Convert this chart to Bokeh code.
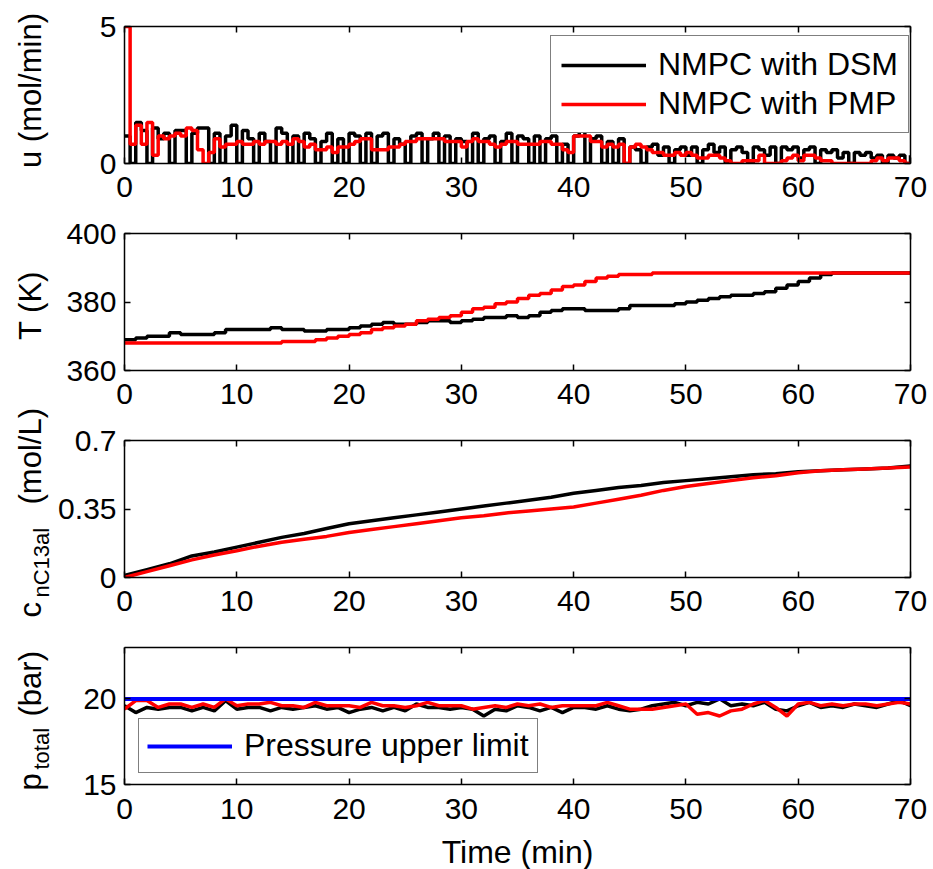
import numpy as np
from math import pi
from bokeh.plotting import figure
from bokeh.models import Range1d, FixedTicker, LinearAxis, Legend, LegendItem
from bokeh.layouts import column, row
from bokeh.embed import file_html
from bokeh.resources import INLINE
from bokeh.core.properties import value

FONT = "Liberation Sans"

# ---------------- data ----------------
x_ticks = [0, 10, 20, 30, 40, 50, 60, 70]
x_min, x_max = 0, 70

# manipulated variable u (mol/min), sampled every 0.5 min
t_u = list(np.arange(0, 70.01, 0.5))
u_dsm = [1.0, 0.0, 1.5, 1.2, 0.0, 1.3, 0.9, 1.1, 0.0, 1.2,
         1.2, 0.0, 1.1, 1.3, 1.3, 0.0, 1.1, 0.0, 1.0, 1.4,
         0.0, 1.2, 0.9, 0.0, 1.1, 0.8, 0.0, 1.3, 1.1, 0.0,
         1.0, 0.0, 1.1, 0.9, 0.0, 0.8, 1.1, 0.0, 0.9, 0.0,
         1.1, 1.0, 0.0, 1.1, 0.0, 1.0, 1.1, 0.0, 0.9, 0.7,
         0.0, 1.0, 1.1, 0.0, 0.9, 1.1, 0.0, 1.0, 0.0, 0.9,
         0.8, 0.0, 1.1, 0.0, 0.9, 1.0, 0.0, 0.8, 1.1, 0.0,
         1.0, 0.9, 0.0, 1.0, 0.0, 0.9, 1.0, 0.0, 0.7, 0.0,
         1.0, 1.2, 0.0, 0.9, 1.0, 0.0, 0.8, 0.0, 0.9, 0.0,
         0.6, 0.5, 0.0, 0.6, 0.7, 0.3, 0.6, 0.0, 0.5, 0.6,
         0.3, 0.6, 0.0, 0.5, 0.7, 0.4, 0.6, 0.0, 0.5, 0.6,
         0.4, 0.0, 0.6, 0.5, 0.3, 0.6, 0.0, 0.6, 0.5, 0.6,
         0.2, 0.5, 0.6, 0.0, 0.5, 0.4, 0.5, 0.2, 0.4, 0.0,
         0.4, 0.3, 0.4, 0.2, 0.3, 0.0, 0.3, 0.2, 0.3, 0.0,
         0.3]
u_pmp = [5.0, 0.7, 1.4, 0.7, 1.5, 0.3, 1.0, 0.9, 1.0, 1.1,
         1.0, 1.3, 1.2, 0.5, 0.0, 0.4, 0.9, 0.6, 0.7, 0.7,
         0.8, 0.7, 0.7, 0.8, 0.7, 0.8, 0.8, 0.7, 0.8, 0.7,
         0.9, 0.8, 0.6, 0.7, 0.5, 0.5, 0.6, 0.4, 0.6, 0.6,
         0.7, 0.8, 0.9, 0.9, 0.5, 0.5, 0.5, 0.6, 0.6, 0.7,
         0.8, 0.8, 0.9, 0.9, 0.9, 0.9, 0.9, 0.8, 0.8, 0.8,
         0.6, 0.8, 0.9, 0.8, 0.8, 0.7, 0.6, 0.7, 0.8, 0.8,
         0.7, 0.7, 0.7, 0.7, 0.8, 0.8, 0.7, 0.7, 0.5, 0.4,
         1.0, 1.0, 1.0, 0.8, 0.8, 0.6, 0.7, 0.6, 0.7, 0.0,
         0.6, 0.7, 0.6, 0.5, 0.4, 0.4, 0.3, 0.3, 0.4, 0.3,
         0.4, 0.3, 0.2, 0.2, 0.3, 0.3, 0.2, 0.1, 0.0, 0.0,
         0.1, 0.1, 0.1, 0.3, 0.0, 0.0, 0.0, 0.1, 0.2, 0.3,
         0.1, 0.3, 0.3, 0.2, 0.1, 0.1, 0.0, 0.0, 0.0, 0.0,
         0.0, 0.0, 0.0, 0.1, 0.2, 0.1, 0.2, 0.2, 0.1, 0.0,
         0.0]

# reactor temperature T (K), every minute
t_T = list(range(0, 71))
T_dsm = [369, 369.5, 370, 370, 371, 370.5, 370.5, 370.5, 371, 372,
         372, 372, 372, 372.5, 372, 372, 371.5, 371.5, 372, 372,
         372.5, 373, 373.5, 374, 373.5, 373.5, 374, 374.5, 374.5, 374,
         374.5, 375, 375.5, 375.5, 376, 375.5, 376, 377, 377.5, 378,
         378, 377.5, 377.5, 377.5, 378, 379, 379, 379, 379, 379.5,
         380, 380.5, 381, 381.5, 382, 382, 382.5, 383, 384, 385,
         386, 387, 388, 388.5, 388.5, 388.5, 388.5, 388.5, 388.5, 388.5,
         388.5]
T_pmp = [368, 368, 368, 368, 368, 368, 368, 368, 368, 368,
         368, 368, 368, 368, 368.5, 368.5, 368.5, 369, 369.5, 370,
         370.5, 371, 372, 372.5, 373, 373.5, 374.5, 375, 375.5, 376,
         377, 378, 378.5, 379.5, 380, 381, 382, 382.5, 383.5, 384.5,
         385, 386, 387, 387.5, 388, 388, 388, 388.5, 388.5, 388.5,
         388.5, 388.5, 388.5, 388.5, 388.5, 388.5, 388.5, 388.5, 388.5, 388.5,
         388.5, 388.5, 388.5, 388.5, 388.5, 388.5, 388.5, 388.5, 388.5, 388.5,
         388.5]

# product concentration c_nC13al (mol/L), every 2 min
t_c = list(range(0, 71, 2))
c_dsm = [0.01, 0.04, 0.07, 0.11, 0.13, 0.155, 0.18, 0.205, 0.225, 0.25,
         0.275, 0.29, 0.305, 0.32, 0.335, 0.35, 0.365, 0.38, 0.395, 0.41,
         0.43, 0.445, 0.46, 0.47, 0.485, 0.495, 0.505, 0.515, 0.525, 0.53,
         0.54, 0.545, 0.55, 0.555, 0.56, 0.57]
c_pmp = [0.0, 0.03, 0.06, 0.09, 0.115, 0.137, 0.16, 0.18, 0.195, 0.21,
         0.23, 0.245, 0.26, 0.275, 0.29, 0.305, 0.315, 0.33, 0.34, 0.35,
         0.36, 0.38, 0.40, 0.42, 0.445, 0.465, 0.48, 0.495, 0.51, 0.52,
         0.535, 0.545, 0.55, 0.555, 0.56, 0.565]

# total pressure (bar), every minute
t_p = list(range(0, 71))
p_dsm = [19.6, 19.2, 19.5, 19.4, 19.5, 19.5, 19.3, 19.5, 19.3, 19.9,
         19.4, 19.5, 19.5, 19.3, 19.5, 19.4, 19.5, 19.6, 19.4, 19.5,
         19.2, 19.4, 19.5, 19.3, 19.5, 19.3, 19.7, 19.5, 19.5, 19.4,
         19.5, 19.4, 19.0, 19.4, 19.3, 19.6, 19.5, 19.3, 19.5, 19.2,
         19.5, 19.5, 19.4, 19.6, 19.4, 19.3, 19.4, 19.6, 19.7, 19.8,
         19.6, 19.8, 19.7, 20.0, 19.6, 19.7, 19.6, 19.8, 19.4, 19.3,
         19.6, 19.8, 19.5, 19.6, 19.5, 19.7, 19.6, 19.5, 19.7, 19.9,
         19.6]
p_pmp = [19.4, 19.9, 19.9, 19.5, 19.7, 19.7, 19.5, 19.7, 19.5, 20.0,
         19.6, 19.7, 19.7, 19.8, 19.6, 19.6, 19.5, 19.8, 19.6, 19.6,
         19.6, 19.5, 19.8, 19.6, 19.6, 19.5, 19.6, 19.8, 19.6, 19.6,
         19.6, 19.4, 19.5, 19.6, 19.5, 19.7, 19.6, 19.7, 19.5, 19.6,
         19.6, 19.6, 19.6, 19.8, 19.6, 19.4, 19.4, 19.4, 19.5, 19.6,
         19.7, 19.1, 19.2, 19.0, 19.3, 19.4, 19.7, 19.9, 19.5, 19.0,
         19.7, 19.8, 19.6, 19.7, 19.6, 19.7, 19.7, 19.6, 19.7, 19.8,
         19.7]
p_limit = 20.0
p_lim_line = [p_limit] * len(t_p)

# ---------------- layout constants ----------------
PAGE_W, PAGE_H = 933, 869
LAB_W = 55              # width of the strip that holds the y-axis titles
MAIN_W = PAGE_W - LAB_W
BORDER_LEFT = 123 - LAB_W
BORDER_RIGHT = 23
FRAME_H = 137
LW = 3.5


def style_axis(ax, labels, standoff=10):
    ax.axis_line_color = "black"
    ax.axis_line_width = 1.5
    ax.major_tick_line_color = "black"
    ax.major_tick_line_width = 1.5
    ax.major_tick_in = 6
    ax.major_tick_out = 0
    ax.minor_tick_line_color = None
    ax.major_label_text_font = FONT
    if labels:
        ax.major_label_text_color = "black"
        ax.major_label_text_font_size = "30px"
        ax.major_label_standoff = standoff
    else:
        ax.major_label_text_color = None
        ax.major_label_text_font_size = "0px"
        ax.major_label_standoff = 0


def make_fig(yr, yticks, height, top, overrides=None, xstandoff=13):
    bottom = height - top - FRAME_H
    p = figure(width=MAIN_W, height=height, x_range=Range1d(x_min, x_max), y_range=Range1d(*yr),
               output_backend="svg", toolbar_location=None,
               min_border_left=BORDER_LEFT, min_border_right=BORDER_RIGHT,
               min_border_top=top, min_border_bottom=bottom)
    p.xgrid.visible = False
    p.ygrid.visible = False
    p.outline_line_color = None
    p.background_fill_color = "white"
    p.border_fill_color = "white"
    bottom_ax = p.below[0]
    left_ax = p.left[0]
    bottom_ax.ticker = FixedTicker(ticks=x_ticks)
    left_ax.ticker = FixedTicker(ticks=yticks)
    style_axis(bottom_ax, True, xstandoff)
    style_axis(left_ax, True, 8)
    if overrides:
        left_ax.major_label_overrides = overrides
    top_ax = LinearAxis(ticker=FixedTicker(ticks=x_ticks))
    style_axis(top_ax, False)
    p.add_layout(top_ax, "above")
    right_ax = LinearAxis(ticker=FixedTicker(ticks=yticks))
    style_axis(right_ax, False)
    p.add_layout(right_ax, "right")
    return p


def style_legend(lg, pad):
    lg.label_text_font = FONT
    lg.label_text_font_size = "32px"
    lg.label_text_color = "black"
    lg.border_line_color = "black"
    lg.border_line_width = 1.5
    lg.background_fill_color = "white"
    lg.background_fill_alpha = 1.0
    lg.padding = pad
    lg.spacing = 2
    lg.margin = 0
    lg.glyph_width = 85
    lg.label_standoff = 12


def blank_fig(width, height, xr, yr, **borders):
    f = figure(width=width, height=height, x_range=xr, y_range=yr,
               output_backend="svg", toolbar_location=None, x_axis_type=None, y_axis_type=None,
               **borders)
    f.xgrid.visible = False
    f.ygrid.visible = False
    f.outline_line_color = None
    f.border_fill_color = "white"
    f.background_fill_color = "white"
    return f


# ---------------- panel 1: u ----------------
H1, TOP1 = 215, 26
p1 = make_fig((0, 5), [0, 5], H1, TOP1)
r1 = p1.step(t_u, u_dsm, mode="after", line_color="black", line_width=LW)
r2 = p1.step(t_u, u_pmp, mode="after", line_color="red", line_width=LW)
lg1 = Legend(items=[LegendItem(label="NMPC with DSM", renderers=[r1]),
                    LegendItem(label="NMPC with PMP", renderers=[r2])],
             location=(426, 30))
style_legend(lg1, 10)
p1.add_layout(lg1)

# ---------------- panel 2: T ----------------
H2, TOP2 = 207, 18
p2 = make_fig((360, 400), [360, 380, 400], H2, TOP2)
p2.step(t_T, T_dsm, mode="after", line_color="black", line_width=LW)
p2.step(t_T, T_pmp, mode="after", line_color="red", line_width=LW)

# ---------------- panel 3: c ----------------
H3, TOP3 = 207, 18
p3 = make_fig((0, 0.7), [0, 0.35, 0.7], H3, TOP3, {0: "0", 0.35: "0.35", 0.7: "0.7"})
p3.line(t_c, c_dsm, line_color="black", line_width=LW)
p3.line(t_c, c_pmp, line_color="red", line_width=LW)

# ---------------- panel 4: p ----------------
H4, TOP4 = 203, 18
p4 = make_fig((15, 23), [15, 20], H4, TOP4, xstandoff=14)
p4.line(t_p, p_dsm, line_color="black", line_width=LW)
p4.line(t_p, p_pmp, line_color="red", line_width=LW)
r_lim = p4.line(t_p, p_lim_line, line_color="blue", line_width=4)
lg4 = Legend(items=[LegendItem(label="Pressure upper limit", renderers=[r_lim])],
             location=(14, 11))
style_legend(lg4, 8)
p4.add_layout(lg4)

# ---------------- x-axis title strip ----------------
H5 = PAGE_H - H1 - H2 - H3 - H4
xt = blank_fig(MAIN_W, H5, Range1d(x_min, x_max), Range1d(H5, 0),
               min_border_left=BORDER_LEFT, min_border_right=BORDER_RIGHT,
               min_border_top=0, min_border_bottom=0)
xt.text(x=[(x_min + x_max) / 2], y=[19], text=["Time (min)"], text_align="center",
        text_baseline="middle", text_font=value(FONT), text_font_size=value("32px"),
        text_color="black")

# ---------------- y-axis titles: one strip over the full height ----------------
# (text, centre x, position measured from the top of the page, size, align)
MAIN, SUB = "31px", "22px"
MX, SX = 30, 41
ytitles = [("u (mol/min)", MX, 90, MAIN, "center"),
           ("T (K)", MX, 305, MAIN, "center"),
           ("c", MX, 617, MAIN, "left"),
           ("nC13al", SX, 597, SUB, "left"),
           ("(mol/L)", MX, 504, MAIN, "left"),
           ("p", MX, 790, MAIN, "left"),
           ("total", SX, 769, SUB, "left"),
           ("(bar)", MX, 716, MAIN, "left")]

strip = blank_fig(LAB_W, PAGE_H, Range1d(0, LAB_W), Range1d(PAGE_H, 0),
                  min_border_left=0, min_border_right=0, min_border_top=0, min_border_bottom=0)
for text, x, y, size, align in ytitles:
    strip.text(x=[x], y=[y], text=[text], angle=pi / 2, text_align=align,
               text_baseline="middle", text_font=value(FONT),
               text_font_size=value(size), text_color="black")

layout = row(strip, column(p1, p2, p3, p4, xt, spacing=0), spacing=0)
open("out.html", "w").write(file_html(layout, INLINE))
